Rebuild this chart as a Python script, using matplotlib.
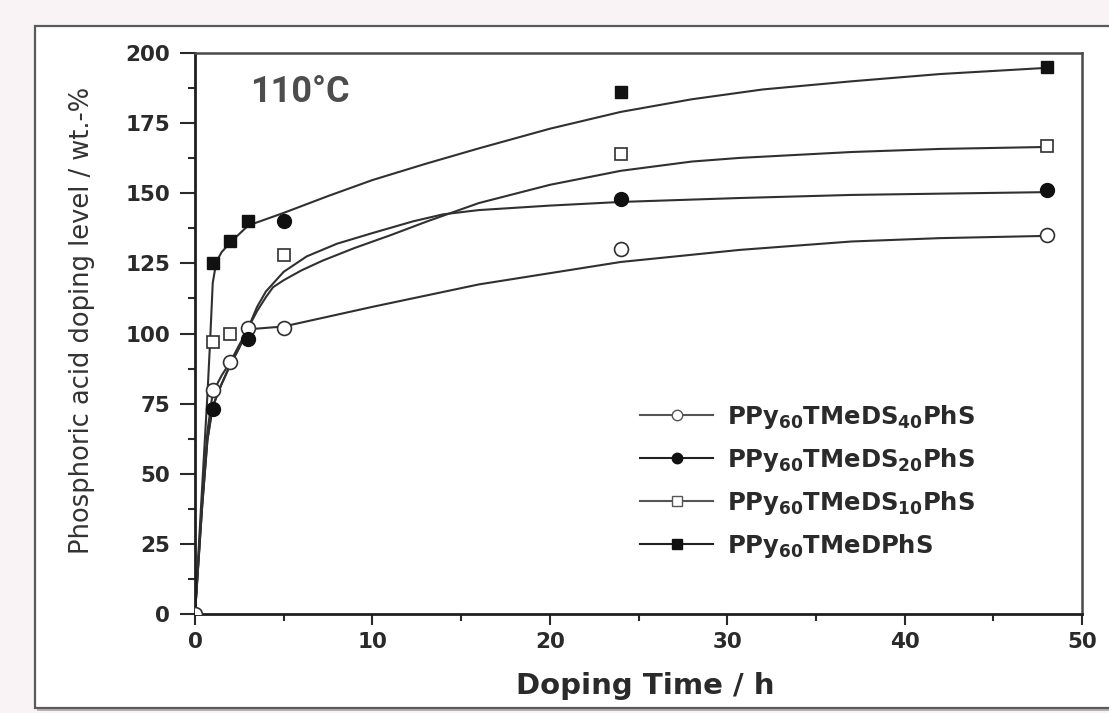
import matplotlib
matplotlib.use("Agg")
import matplotlib.pyplot as plt
from matplotlib.lines import Line2D
from matplotlib.patches import Rectangle

plt.rcParams["font.family"] = ["DejaVu Sans"]
plt.rcParams["mathtext.fontset"] = "custom"
plt.rcParams["mathtext.bf"] = "DejaVu Sans:bold"
plt.rcParams["mathtext.rm"] = "DejaVu Sans:bold"
plt.rcParams["mathtext.default"] = "bf"

# measured doping levels (wt.-%) vs doping time (h)
t_ds40 = [0, 1, 2, 3, 5, 24, 48]
y_ds40 = [0, 80, 90, 102, 102, 130, 135]
t_ds20 = [1, 3, 5, 24, 48]
y_ds20 = [73, 98, 140, 148, 151]
t_ds10 = [1, 2, 5, 24, 48]
y_ds10 = [97, 100, 128, 164, 167]
t_dphs = [1, 2, 3, 24, 48]
y_dphs = [125, 133, 140, 186, 195]

# fitted trend curves
fit_t_ds40 = [0, 0.4, 0.7, 1, 1.5, 2, 2.5, 3, 4, 5, 7.5, 10, 13, 16, 20, 24, 30.7, 37, 42, 48]
fit_y_ds40 = [0, 40, 65, 79, 85, 90, 96, 101.5, 102, 102.5, 106, 109.5, 113.5, 117.5,
              121.5, 125.5, 129.8, 132.8, 134, 134.8]
fit_t_ds20 = [0, 0.4, 0.7, 1, 1.5, 2, 2.5, 3, 3.5, 4, 5, 6.3, 8, 10, 12.3, 14, 16, 20,
              24, 30.7, 37, 48]
fit_y_ds20 = [0, 38, 62, 74, 82, 89, 95, 102, 109.5, 115, 122, 127.5, 132, 135.8, 140,
              142.5, 144, 145.6, 146.9, 148.3, 149.4, 150.4]
fit_t_ds10 = [0, 0.4, 0.7, 1, 1.5, 2, 2.5, 3, 3.5, 4, 4.4, 5, 6, 7.2, 9, 11, 13.1, 16,
              20, 24, 28, 30.7, 37, 42, 48]
fit_y_ds10 = [0, 38, 62, 74, 82, 89, 95, 102, 108, 113, 116.5, 119, 122.5, 126, 130.5,
              135, 140, 146.5, 153, 158, 161.3, 162.6, 164.7, 165.8, 166.5]
fit_t_dphs = [0, 0.4, 0.7, 0.85, 1.0, 1.2, 1.5, 2, 3, 5, 7.5, 10, 13, 16, 20, 24, 28,
              32, 37, 42, 48]
fit_y_dphs = [0, 45, 78, 97, 118, 125.5, 129, 132.5, 138.5, 143, 149, 154.7, 160.5, 166,
              173, 179, 183.5, 187, 189.9, 192.5, 194.7]

labels = [r"PPy$_{60}$TMeDS$_{40}$PhS", r"PPy$_{60}$TMeDS$_{20}$PhS",
          r"PPy$_{60}$TMeDS$_{10}$PhS", r"PPy$_{60}$TMeDPhS"]

W, H = 1109, 713
fig = plt.figure(figsize=(W / 100, H / 100), dpi=100, facecolor="#f9f3f6")

# white panel with a soft shadow
fig.patches.append(Rectangle((37 / W, 1 - 711 / H), 1.0, (711 - 28) / H,
                             transform=fig.transFigure, facecolor="#b8b4b6",
                             edgecolor="none", zorder=-2))
fig.patches.append(Rectangle((35 / W, 1 - 708 / H), 1.0, (708 - 26) / H,
                             transform=fig.transFigure, facecolor="white",
                             edgecolor="#5a5a5a", lw=1.6, zorder=-1))

ax = fig.add_axes([195 / W, 1 - 614 / H, (1082 - 195) / W, (614 - 53) / H])
ax.set_facecolor("white")

line_c = "#303030"
for tt, yy in [(fit_t_ds40, fit_y_ds40), (fit_t_ds20, fit_y_ds20),
               (fit_t_ds10, fit_y_ds10), (fit_t_dphs, fit_y_dphs)]:
    ax.plot(tt, yy, color=line_c, lw=1.5, zorder=2)

ax.plot(t_ds40, y_ds40, "o", ms=10, mfc="white", mec=line_c, mew=1.2, zorder=3)
ax.plot(t_ds20, y_ds20, "o", ms=10, mfc="#111111", mec="#111111", zorder=3)
ax.plot(t_ds10, y_ds10, "s", ms=9, mfc="white", mec=line_c, mew=1.2, zorder=3)
ax.plot(t_dphs, y_dphs, "s", ms=9, mfc="#111111", mec="#111111", zorder=3)

ax.set_xlim(0, 50)
ax.set_ylim(0, 200)
ax.set_xticks(range(0, 51, 10))
ax.set_xticks(range(5, 50, 10), minor=True)
ax.set_yticks(range(0, 201, 25))
ax.set_yticks([12.5 + 25 * i for i in range(8)], minor=True)

for side in ["left", "bottom"]:
    ax.spines[side].set_color("#1e1e1e")
    ax.spines[side].set_linewidth(2.0)
for side in ["top", "right"]:
    ax.spines[side].set_color("#4a4a4a")
    ax.spines[side].set_linewidth(1.8)

ax.tick_params(axis="both", which="both", direction="out", color="#2a2a2a", width=1.5,
               labelcolor="#2a2a2a")
ax.tick_params(axis="y", which="major", length=11, pad=7, labelsize=15.5)
ax.tick_params(axis="y", which="minor", length=5)
ax.tick_params(axis="x", which="major", length=8, pad=5, labelsize=15.5)
ax.tick_params(axis="x", which="minor", length=5)
for lab in ax.get_xticklabels() + ax.get_yticklabels():
    lab.set_fontweight("bold")

ax.set_xlabel("Doping Time / h", fontsize=21, fontweight="bold", color="#2a2a2a")
ax.xaxis.set_label_coords(0.508, -0.103)
ax.set_ylabel("Phosphoric acid doping level / wt.-%", fontsize=18.5, color="#333333",
              fontweight="medium")
ax.yaxis.set_label_coords(-0.113, 0.524)

ax.text(0.062, 0.930, "110°C", transform=ax.transAxes, fontsize=26, fontweight="bold",
        family="Roboto", color="#4d4d4d", va="center", ha="left")

handles = [
    Line2D([], [], color="#555555", lw=1.5, marker="o", ms=7.5, mfc="white", mec="#555555"),
    Line2D([], [], color="#222222", lw=1.5, marker="o", ms=7.5, mfc="#111111", mec="#111111"),
    Line2D([], [], color="#555555", lw=1.5, marker="s", ms=6.5, mfc="white", mec="#555555"),
    Line2D([], [], color="#222222", lw=1.5, marker="s", ms=6.5, mfc="#111111", mec="#111111"),
]
leg = ax.legend(handles, labels, loc="upper left", bbox_to_anchor=(0.502, 0.377),
                frameon=False, fontsize=17.5, handlelength=3.0, handletextpad=0.55,
                labelspacing=0.62, borderpad=0, borderaxespad=0)
for txt in leg.get_texts():
    txt.set_color("#2a2a2a")
    txt.set_fontweight("bold")

fig.savefig("out.png", dpi=100, facecolor=fig.get_facecolor())
